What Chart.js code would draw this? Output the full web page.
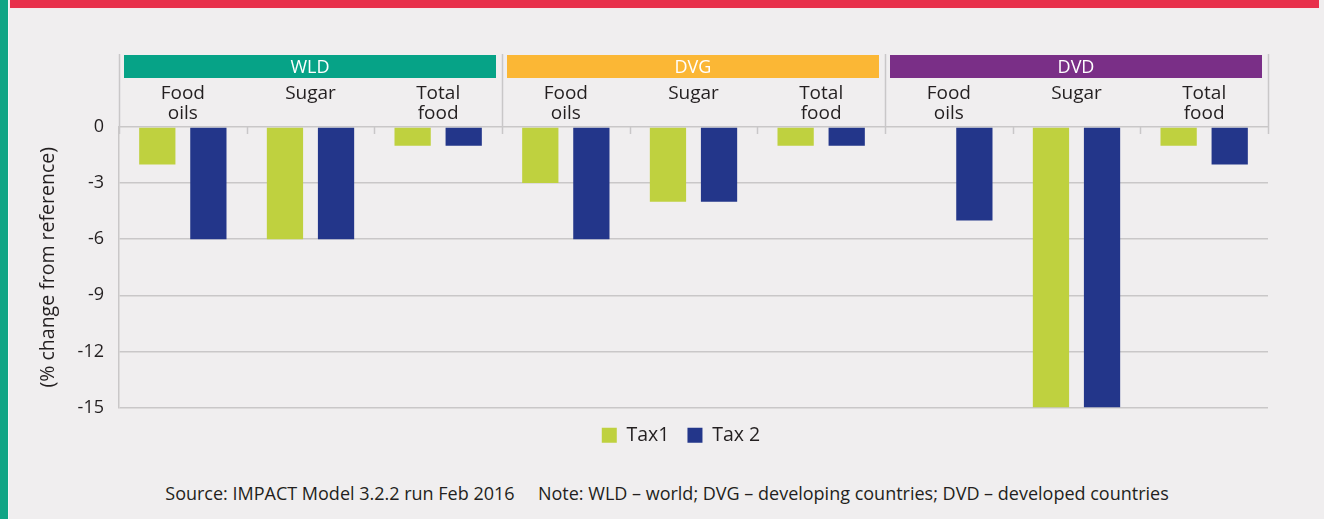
<!DOCTYPE html>
<html>
<head>
<meta charset="utf-8">
<script src="https://cdn.jsdelivr.net/npm/chart.js@4"></script>
<style>
  html, body { margin: 0; padding: 0; }
  body { width: 1324px; height: 519px; background: #f0eeef; position: relative; overflow: hidden; font-family: 'Open Sans', sans-serif; }
  .stripe { position: absolute; left: 0; top: 0; width: 8px; height: 519px; background: #10a585; border-right: 1px solid #f8f7f7; }
  .banner { position: absolute; left: 10px; top: 0; width: 1309px; height: 8px; background: #e8304b; border-bottom: 1px solid #f6e9eb; }
  .chart-box { position: absolute; left: 0; top: 0; width: 1324px; height: 455px; }
  .source { position: absolute; left: 0; width: 1334px; top: 481px; text-align: center; font-size: 18px; color: #231f20; white-space: pre; }
</style>
</head>
<body>
<div class="stripe"></div>
<div class="banner"></div>
<div class="chart-box"><canvas id="chartTaxEffect"></canvas></div>
<div class="source">Source: IMPACT Model 3.2.2 run Feb 2016     Note: WLD – world; DVG – developing countries; DVD – developed countries</div>
<script>
const regions = ['WLD', 'DVG', 'DVD'];
const items = [['Food', 'oils'], ['Sugar'], ['Total', 'food']];
const categories = regions.flatMap(() => items);
const tax1 = [-2, -6, -1, -3, -4, -1, 0, -15, -1];
const tax2 = [-6, -6, -1, -6, -4, -1, -5, -15, -2];
const yTicks = [0, -3, -6, -9, -12, -15];

const regionColors = ['#06a387', '#fbb735', '#7a2f87'];
const ink = '#231f20';
const rule = '#c9c7c8';
const fontFamily = "'Open Sans', sans-serif";

// Region header bands, item labels and the divider ticks above the plot
const headerPlugin = {
  id: 'regionHeader',
  afterLayout(chart) {
    // legend sits a little right of the canvas centre
    chart.legend.left += 94;
  },
  afterDraw(chart) {
    const { ctx, chartArea } = chart;
    const x = chart.scales.x;
    const half = (x.getPixelForValue(1) - x.getPixelForValue(0)) / 2;
    const edge = i => x.getPixelForValue(i) - half;
    const top = chartArea.top;
    ctx.save();

    // boundaries between categories
    ctx.strokeStyle = rule;
    ctx.lineWidth = 1.5;
    for (let i = 0; i <= categories.length; i++) {
      const px = Math.round(edge(i)) + 0.5;
      const major = i % items.length === 0;
      ctx.beginPath();
      ctx.moveTo(px, major ? top - 73 : top);
      ctx.lineTo(px, top + 7);
      ctx.stroke();
    }

    // region bands
    regions.forEach((name, g) => {
      const x0 = edge(g * items.length) + 5;
      const x1 = edge((g + 1) * items.length) - 6;
      ctx.fillStyle = regionColors[g];
      ctx.fillRect(x0, top - 72, x1 - x0, 23);
      ctx.fillStyle = '#ffffff';
      ctx.font = `18px ${fontFamily}`;
      ctx.textAlign = 'center';
      ctx.textBaseline = 'middle';
      ctx.fillText(name, (x0 + x1) / 2, top - 59);
    });

    // item labels
    ctx.fillStyle = ink;
    ctx.font = `19px ${fontFamily}`;
    ctx.textAlign = 'center';
    ctx.textBaseline = 'middle';
    categories.forEach((lines, i) => {
      const cx = x.getPixelForValue(i);
      lines.forEach((t, k) => ctx.fillText(t, cx, top - 33 + k * 19.5));
    });
    ctx.restore();
  }
};

new Chart(document.getElementById('chartTaxEffect').getContext('2d'), {
  type: 'bar',
  data: {
    labels: categories,
    datasets: [
      { label: 'Tax1', data: tax1, backgroundColor: '#bfd13f' },
      { label: 'Tax 2', data: tax2, backgroundColor: '#23368a' }
    ]
  },
  options: {
    responsive: true,
    maintainAspectRatio: false,
    animation: false,
    categoryPercentage: 0.8,
    barPercentage: 0.71,
    layout: { padding: { top: 127, right: 56, left: 0, bottom: 0 } },
    scales: {
      x: { display: false },
      y: {
        min: -15,
        max: 0,
        afterFit: s => { s.width = 119; },
        afterBuildTicks: s => { s.ticks = yTicks.map(v => ({ value: v })); },
        ticks: {
          padding: 15,
          color: ink,
          font: { family: fontFamily, size: 18 }
        },
        grid: { color: rule, lineWidth: 1.5, drawTicks: false },
        border: { display: true, color: rule, width: 1.5 },
        title: {
          display: true,
          text: '(% change from reference)',
          color: ink,
          padding: { top: 37, bottom: 0 },
          font: { family: fontFamily, size: 19.5 }
        }
      }
    },
    plugins: {
      legend: {
        position: 'bottom',
        labels: {
          boxWidth: 15,
          boxHeight: 15,
          padding: 18,
          color: ink,
          font: { family: fontFamily, size: 19.5 }
        }
      },
      tooltip: { enabled: false }
    }
  },
  plugins: [headerPlugin]
});
</script>
</body>
</html>
